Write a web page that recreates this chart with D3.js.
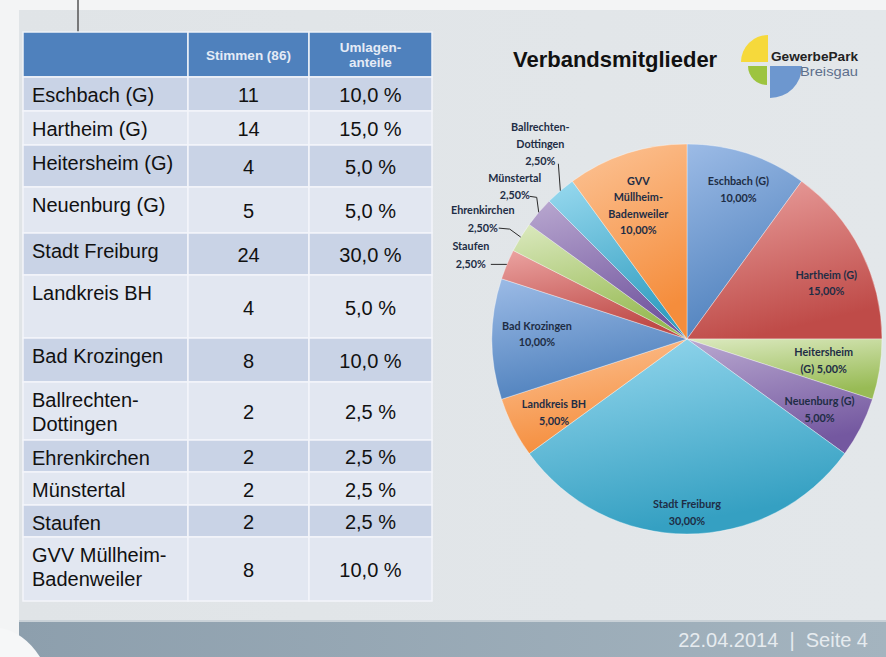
<!DOCTYPE html>
<html>
<head>
<meta charset="utf-8">
<script src="https://cdn.jsdelivr.net/npm/d3@7"></script>
<style>
  body { margin: 0; background: #fff; }
  svg { display: block; }
</style>
</head>
<body>
<div id="vizcontainer"></div>
<script>
const width = 886,
  height = 657;

// table data
const gemeinden = ['Eschbach (G)', 'Hartheim (G)', 'Heitersheim (G)', 'Neuenburg (G)', 'Stadt Freiburg',
  'Landkreis BH', 'Bad Krozingen', 'Ballrechten-\nDottingen', 'Ehrenkirchen', 'Münstertal', 'Staufen',
  'GVV Müllheim-\nBadenweiler'];
const stimmen = [11, 14, 4, 5, 24, 4, 8, 2, 2, 2, 2, 8];
const anteile = [10, 15, 5, 5, 30, 5, 10, 2.5, 2.5, 2.5, 2.5, 10];
const headStimmen = ['Stimmen (86)'];
const headAnteile = ['Umlagen-', 'anteile'];

// pie data (order as in the chart)
const pieLabels = ['Eschbach (G)\n{p}', 'Hartheim (G)\n{p}', 'Heitersheim\n(G) {p}', 'Neuenburg (G)\n{p}',
  'Stadt Freiburg\n{p}', 'Landkreis BH\n{p}', 'Bad Krozingen\n{p}', 'Staufen\n{p}', 'Ehrenkirchen\n{p}',
  'Münstertal\n{p}', 'Ballrechten-\nDottingen\n{p}', 'GVV\nMüllheim-\nBadenweiler\n{p}'];
const pieValues = [10, 15, 5, 5, 30, 5, 10, 2.5, 2.5, 2.5, 2.5, 10];

const title = 'Verbandsmitglieder';
const footer = '22.04.2014  |  Seite 4';

// layout
const rowHeights = [34, 34, 42, 46, 42, 63, 44, 58, 32, 33, 32, 64];
const tableX = [23, 188, 309, 432];
const headerY = [32, 77];
const pieCx = 687, pieCy = 339, pieR = 195;
// inside labels: radius fraction and angle nudge (deg); outside labels: offset from edge + leader
const labelLayout = [
  { f: 0.81, da: 1 }, { f: 0.77, da: 5 }, { f: 0.71, da: 0 }, { f: 0.77, da: 1 },
  { f: 0.89, da: 0 }, { f: 0.78, da: -2 }, { f: 0.77, da: 2 },
  { out: [-36, -9], lead: [[0, 0], [-16, 0]], lh: 18 },
  { out: [-38, -18], lead: [[0, 0], [-11, -8], [-22, -9]], lh: 18 },
  { out: [-24, -26], lead: [[0, 0], [-2, -15], [-9, -16]], lh: 17 },
  { out: [-20, -47], lead: [[0, 0], [-2, -27]], lh: 17 },
  { f: 0.73, da: -2 }
];
const pieColors = [
  ['#9cbbe6', '#4f81bd'], ['#eba3a1', '#bf4b48'], ['#dbe9bf', '#98bb55'],
  ['#b9a8d0', '#7458a0'], ['#98d9ef', '#35a0c2'], ['#fcc497', '#f58d3c']
];

const fmtPct = v => d3.format('.1f')(v).replace('.', ',') + ' %';
const fmtPct2 = v => d3.format('.2f')(v).replace('.', ',') + '%';

let viz = d3.select('#vizcontainer')
  .append('svg')
  .attr('width', width)
  .attr('height', height);

const defs = viz.append('defs');

const bg = defs.append('linearGradient').attr('id', 'slidebg')
  .attr('x1', 0).attr('y1', 0).attr('x2', 1).attr('y2', 0);
bg.append('stop').attr('offset', 0).attr('stop-color', '#e0e4e7');
bg.append('stop').attr('offset', 1).attr('stop-color', '#e3e7ea');

const fg = defs.append('linearGradient').attr('id', 'footbg')
  .attr('x1', 0).attr('y1', 0).attr('x2', 1).attr('y2', 0);
fg.append('stop').attr('offset', 0).attr('stop-color', '#8d9fad');
fg.append('stop').attr('offset', 1).attr('stop-color', '#a4b4bf');

pieColors.forEach((c, i) => {
  const g = defs.append('linearGradient').attr('id', 'pc' + i)
    .attr('x1', 0).attr('y1', 0).attr('x2', 0.3).attr('y2', 1);
  g.append('stop').attr('offset', 0).attr('stop-color', c[0]);
  g.append('stop').attr('offset', 1).attr('stop-color', c[1]);
});

// slide background
viz.append('rect').attr('width', width).attr('height', height).attr('fill', '#f3f4f5');
viz.append('rect').attr('x', 19).attr('y', 10).attr('width', width - 19).attr('height', 610)
  .attr('fill', 'url(#slidebg)');
viz.append('rect').attr('x', 19).attr('y', 620).attr('width', width - 19).attr('height', 2)
  .attr('fill', '#c9d1d7');
viz.append('rect').attr('x', 19).attr('y', 622).attr('width', width - 19).attr('height', 35)
  .attr('fill', 'url(#footbg)');
viz.append('path').attr('d', 'M0,628 Q24,632 40,657 L0,657 Z').attr('fill', '#f6f7f8');
viz.append('line').attr('x1', 78).attr('x2', 78).attr('y1', 0).attr('y2', 32)
  .attr('stroke', '#555').attr('stroke-width', 1.5);

viz.append('text')
  .attr('x', 868).attr('y', 647)
  .attr('text-anchor', 'end')
  .attr('font-family', 'Liberation Sans, Arial, sans-serif')
  .attr('font-size', 20)
  .attr('fill', '#e6ebef')
  .style('white-space', 'pre')
  .text(footer);

// table
const rowTop = rowHeights.map((h, i) => headerY[1] + d3.sum(rowHeights.slice(0, i)));
const rows = gemeinden.map((g, i) => ({ name: g, st: stimmen[i], an: anteile[i], y: rowTop[i], h: rowHeights[i] }));

const table = viz.append('g').attr('font-family', 'Liberation Sans, Arial, sans-serif');

[0, 1, 2].forEach(c => {
  table.append('rect')
    .attr('x', tableX[c]).attr('y', headerY[0])
    .attr('width', tableX[c + 1] - tableX[c]).attr('height', headerY[1] - headerY[0])
    .attr('fill', '#4f81bd').attr('stroke', '#eef2f8').attr('stroke-width', 1.5);
});

const colMid = c => (tableX[c] + tableX[c + 1]) / 2;
const hdr = [[], headStimmen, headAnteile];
hdr.forEach((lines, c) => {
  lines.forEach((t, k) => {
    table.append('text')
      .attr('x', colMid(c))
      .attr('y', (headerY[0] + headerY[1]) / 2 + (k - (lines.length - 1) / 2) * 15.5 + 5)
      .attr('text-anchor', 'middle')
      .attr('font-weight', 'bold')
      .attr('font-size', 13.5)
      .attr('fill', '#e4ebf6')
      .text(t);
  });
});

const rowG = table.selectAll('g.row').data(rows).join('g').attr('class', 'row');
[0, 1, 2].forEach(c => {
  rowG.append('rect')
    .attr('x', tableX[c]).attr('y', d => d.y)
    .attr('width', tableX[c + 1] - tableX[c]).attr('height', d => d.h)
    .attr('fill', (d, i) => i % 2 === 0 ? '#c9d3e6' : '#e2e7f1')
    .attr('stroke', '#f3f5fa').attr('stroke-width', 1.5);
});

rowG.each(function (d) {
  const g = d3.select(this);
  d.name.split('\n').forEach((t, k) => {
    g.append('text')
      .attr('x', tableX[0] + 9)
      .attr('y', d.y + 18 + k * 24 + 7)
      .attr('font-size', 20)
      .attr('fill', '#111')
      .text(t);
  });
  g.append('text')
    .attr('x', colMid(1)).attr('y', d.y + d.h / 2 + 8)
    .attr('text-anchor', 'middle').attr('font-size', 20).attr('fill', '#111')
    .text(d.st);
  g.append('text')
    .attr('x', colMid(2)).attr('y', d.y + d.h / 2 + 8)
    .attr('text-anchor', 'middle').attr('font-size', 20).attr('fill', '#111')
    .text(fmtPct(d.an));
});

// title + logo
viz.append('text')
  .attr('x', 513).attr('y', 67)
  .attr('font-family', 'Liberation Sans, Arial, sans-serif')
  .attr('font-weight', 'bold')
  .attr('font-size', 22)
  .attr('fill', '#111')
  .text(title);

const logo = viz.append('g').attr('transform', 'translate(769,64)');
const q = d3.arc().innerRadius(0);
logo.append('path').attr('transform', 'translate(-1,-2)')
  .attr('d', q.outerRadius(27)({ startAngle: -Math.PI / 2, endAngle: 0 })).attr('fill', '#f6d93b');
logo.append('path').attr('transform', 'translate(-2,2)')
  .attr('d', q.outerRadius(19)({ startAngle: Math.PI, endAngle: 1.5 * Math.PI })).attr('fill', '#9dc43f');
logo.append('path').attr('transform', 'translate(1,2)')
  .attr('d', q.outerRadius(32)({ startAngle: Math.PI / 2, endAngle: Math.PI })).attr('fill', '#6d97cf');
logo.append('text').attr('x', 2).attr('y', -3)
  .attr('font-family', 'Liberation Sans, Arial, sans-serif').attr('font-weight', 'bold')
  .attr('font-size', 12).attr('fill', '#222')
  .attr('textLength', 87).attr('lengthAdjust', 'spacingAndGlyphs')
  .text('GewerbePark');
logo.append('text').attr('x', 31).attr('y', 12)
  .attr('font-family', 'Liberation Sans, Arial, sans-serif')
  .attr('font-size', 13.5).attr('fill', '#5d6f8c')
  .attr('textLength', 58).attr('lengthAdjust', 'spacingAndGlyphs')
  .text('Breisgau');

// pie
const pie = d3.pie().sort(null).value(d => d)(pieValues);
const arc = d3.arc().innerRadius(0).outerRadius(pieR);
const pg = viz.append('g').attr('transform', `translate(${pieCx},${pieCy})`);

pg.selectAll('path.slice').data(pie).join('path')
  .attr('class', 'slice')
  .attr('d', arc)
  .attr('fill', (d, i) => `url(#pc${i % pieColors.length})`)
  .attr('stroke', 'rgba(255,255,255,0.45)')
  .attr('stroke-width', 0.8);

const lab = pg.append('g')
  .attr('font-family', 'Lato, "Open Sans", sans-serif')
  .attr('font-weight', 'bold')
  .attr('font-size', 10.8)
  .attr('fill', '#1e2d45')
  .attr('text-anchor', 'middle');

pie.forEach((d, i) => {
  const L = labelLayout[i];
  const lines = pieLabels[i].replace('{p}', fmtPct2(pieValues[i])).split('\n');
  let cx, cy, lh = 16.5;
  if (L.out) {
    const edge = d3.arc().innerRadius(pieR).outerRadius(pieR).centroid(d);
    cx = edge[0] + L.out[0];
    cy = edge[1] + L.out[1];
    lh = L.lh;
    lab.append('path')
      .attr('d', d3.line()(L.lead.map(p => [edge[0] + p[0], edge[1] + p[1]])))
      .attr('fill', 'none').attr('stroke', '#2a2a2a').attr('stroke-width', 1);
  } else {
    const a = (d.startAngle + d.endAngle) / 2 + L.da * Math.PI / 180;
    const c = d3.arc().innerRadius(pieR * L.f).outerRadius(pieR * L.f)
      .centroid({ startAngle: a, endAngle: a });
    cx = c[0];
    cy = c[1];
  }
  lines.forEach((t, k) => {
    lab.append('text')
      .attr('x', cx)
      .attr('y', cy + (k - (lines.length - 1) / 2) * lh + 4)
      .text(t);
  });
});
</script>
</body>
</html>
